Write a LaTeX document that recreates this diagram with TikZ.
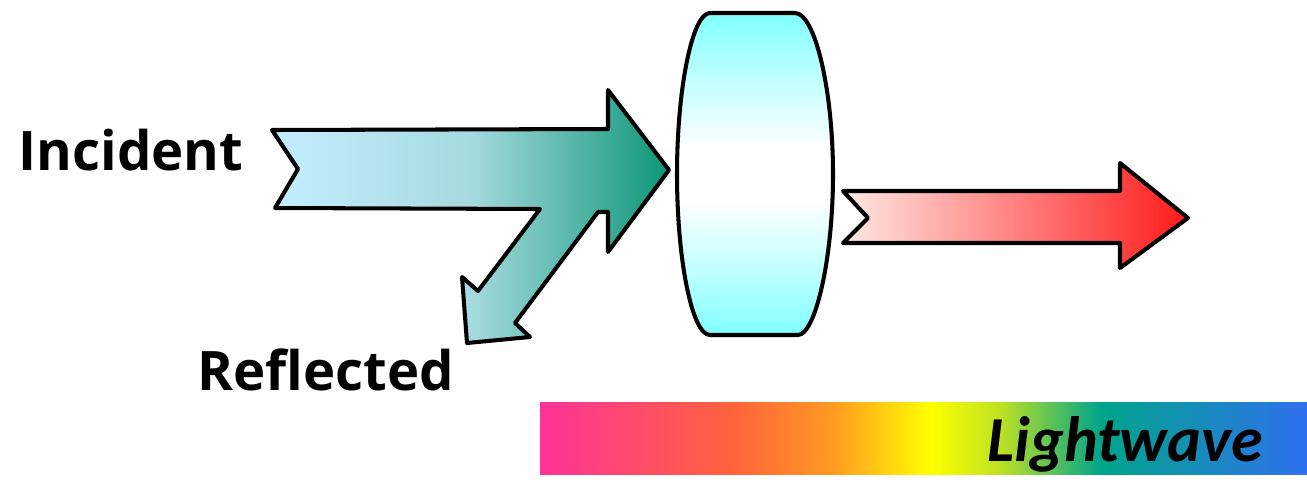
\documentclass[tikz,border=0pt]{standalone}
\usepackage{fontspec}
\setmainfont{Open Sans}
\newfontfamily\wavefont{Carlito}

\definecolor{incA}{RGB}{196,238,255}
\definecolor{incM}{RGB}{165,218,222}
\definecolor{incB}{RGB}{14,150,120}
\definecolor{outA}{RGB}{255,232,228}
\definecolor{outB}{RGB}{255,26,26}
\definecolor{lensC}{RGB}{128,255,255}
\definecolor{specA}{RGB}{255,51,153}
\definecolor{specB}{RGB}{255,99,60}
\definecolor{specC}{RGB}{255,153,34}
\definecolor{specD}{RGB}{255,255,0}
\definecolor{specE}{RGB}{190,225,35}
\definecolor{specF}{RGB}{0,165,138}
\definecolor{specG}{RGB}{48,112,240}

\pgfdeclarehorizontalshading{spectrum}{100bp}{%
  color(0bp)=(specA); color(25bp)=(specA); color(37.5bp)=(specB);
  color(44bp)=(specC); color(50.5bp)=(specD); color(55bp)=(specE);
  color(61.5bp)=(specF); color(75bp)=(specG); color(100bp)=(specG)}
\pgfdeclareverticalshading{lensfade}{100bp}{%
  color(0bp)=(lensC); color(25bp)=(lensC); color(37bp)=(lensC!40!white);
  color(46bp)=(white); color(54bp)=(white); color(63bp)=(lensC!40!white);
  color(75bp)=(lensC); color(100bp)=(lensC)}

\begin{document}
\begin{tikzpicture}[
  x=0.02cm, y=-0.02cm,
  arrowshape/.style={draw=black, line width=2.3pt, line join=round},
  incident/.style={arrowshape, left color=incA, right color=incB, middle color=incM},
  passed/.style={arrowshape, left color=outA, right color=outB},
  lens/.style={arrowshape, shading=lensfade},
  label/.style={font=\bfseries\fontsize{31}{36}\selectfont, anchor=base, inner sep=0pt}
]
\useasboundingbox (0,0) rectangle (1307,484);
\fill[shading=spectrum] (540,402) rectangle (1307,474);
\node[font=\wavefont\bfseries\itshape\fontsize{36.5}{42}\selectfont, anchor=base, inner sep=0pt]
  (wave) at (1125,461) {Lightwave};
\draw[incident] (272,130) -- (608,129) -- (608,90) -- (669,170) -- (608,252) -- (608,212)
  -- (598,212) -- (515,323) -- (530,337) -- (467,343) -- (462,277) -- (478,291)
  -- (540,209) -- (275,208) -- (298,169) -- cycle;
\draw[lens] (710,13) -- (795,13) .. controls (815,13) and (833,90) .. (833,174)
  .. controls (833,260) and (815,335) .. (798,335) -- (710,335)
  .. controls (692,335) and (677,260) .. (677,174)
  .. controls (677,90) and (692,13) .. (710,13) -- cycle;
\draw[passed] (843,191) -- (1120,191) -- (1120,163) -- (1188,218) -- (1120,268)
  -- (1120,243) -- (843,243) -- (868,218) -- cycle;
\node[label] (incident) at (131,170) {Incident};
\node[label] (reflected) at (326,390) {Reflected};
\end{tikzpicture}
\end{document}
